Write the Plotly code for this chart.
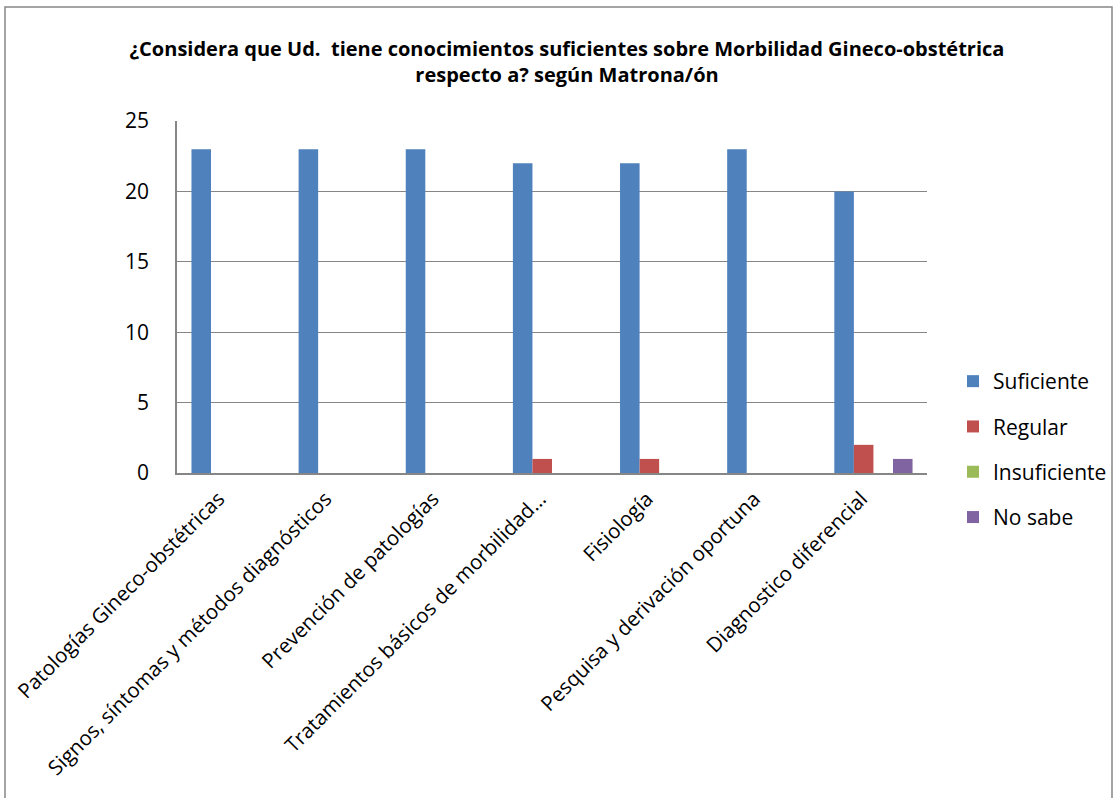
import plotly.graph_objects as go

categories = [
    "Patologías Gineco-obstétricas",
    "Signos, síntomas y métodos diagnósticos",
    "Prevención de patologías",
    "Tratamientos básicos de morbilidad…",
    "Fisiología",
    "Pesquisa y derivación oportuna",
    "Diagnostico diferencial",
]
suficiente = [23, 23, 23, 22, 22, 23, 20]
regular = [0, 0, 0, 1, 1, 0, 2]
insuficiente = [0, 0, 0, 0, 0, 0, 0]
no_sabe = [0, 0, 0, 0, 0, 0, 1]

series_names = ["Suficiente", "Regular", "Insuficiente", "No sabe"]
series_values = [suficiente, regular, insuficiente, no_sabe]
colors = ["#4F81BD", "#C0504D", "#9BBB59", "#8064A2"]

W, H = 1114, 798
L, T = 177, 121
pw, ph = 750, 352
R = W - L - pw
B = H - T - ph


def px_x(p):
    return (p - L) / pw


def px_y(p):
    return (H - B - p) / ph


fig = go.Figure()
for name, vals, c in zip(series_names, series_values, colors):
    fig.add_trace(go.Bar(
        name=name, x=categories, y=vals, marker=dict(color=c, line=dict(width=0)),
        legendgroup=name,
    ))

FONT = "Open Sans"
fig.update_layout(
    width=W, height=H,
    margin=dict(l=L, r=R, t=T, b=B, autoexpand=False),
    paper_bgcolor="white", plot_bgcolor="white",
    barmode="group", bargap=0.27, bargroupgap=0,
    font=dict(family=FONT, color="#000000"),
    title=dict(
        text="<b>¿Considera que Ud.  tiene conocimientos suficientes sobre Morbilidad Gineco-obstétrica<br>respecto a? según Matrona/ón</b>",
        x=567 / W, xanchor="center", y=1 - 56 / H, yanchor="middle",
        font=dict(family=FONT, size=20, color="#000000"),
    ),
    showlegend=True,
    legend=dict(
        x=px_x(953), xanchor="left", y=px_y(361), yanchor="top",
        font=dict(family=FONT, size=21, color="#000000"),
        tracegroupgap=15, bgcolor="rgba(0,0,0,0)", itemwidth=30,
    ),
    xaxis=dict(
        tickangle=-45, tickfont=dict(family=FONT, size=20.5, color="#000000"),
        showline=True, linecolor="#868686", linewidth=1.5,
        showgrid=False, ticks="", fixedrange=True,
        ticklabelshift=-12, ticklabelstandoff=4,
    ),
    yaxis=dict(
        range=[0, 25], dtick=5, tick0=0,
        tickfont=dict(family=FONT, size=21, color="#000000"),
        showgrid=True, gridcolor="#868686", gridwidth=1,
        showline=True, linecolor="#868686", linewidth=1.5,
        ticks="", ticklabelstandoff=22,
        zeroline=False, fixedrange=True,
    ),
    shapes=[dict(
        type="rect", xref="paper", yref="paper",
        x0=px_x(5), x1=px_x(1112),
        y0=px_y(820), y1=px_y(7),
        line=dict(color="#868686", width=1.5), fillcolor="rgba(0,0,0,0)",
    )],
)

fig.write_html(
    "out.html",
    config={"displayModeBar": False},
    post_script="document.body.style.margin='0px';",
)
